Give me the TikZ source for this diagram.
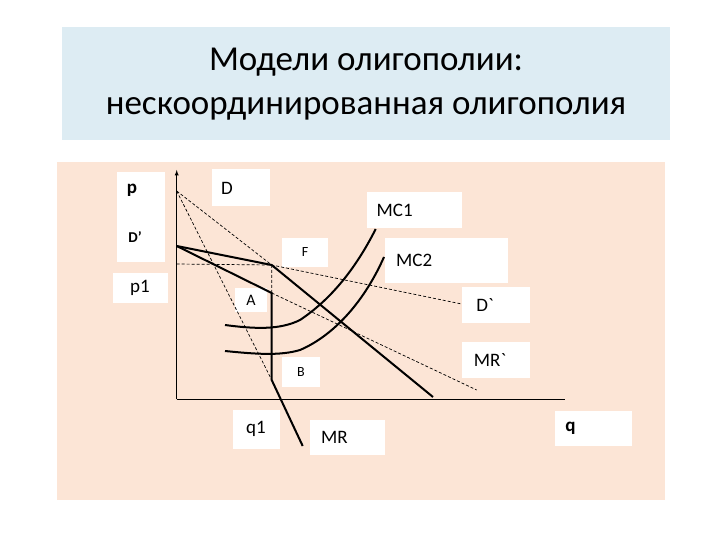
\documentclass[tikz,border=0pt]{standalone}
\usepackage{fontspec}
\setmainfont{Carlito}
\begin{document}
\begin{tikzpicture}[x=1pt,y=-1pt,
  lbl/.style={fill=white,inner sep=0pt,font=\fontsize{19}{21}\selectfont},
  curve/.style={line width=2pt},
  dline/.style={line width=0.7pt,dash pattern=on 3pt off 2pt}]
\useasboundingbox (0,0) rectangle (720,540);
\fill[white] (0,0) rectangle (720,540);
\fill[fill={rgb,255:red,221;green,236;blue,243}] (62,27) rectangle (670,140);
\node[font=\fontsize{35}{44}\selectfont,align=center] (title) at (366,84) {Модели олигополии:\\нескоординированная олигополия};
\fill[fill={rgb,255:red,252;green,229;blue,214}] (57,162) rectangle (665,500);
% label boxes
\node[lbl,minimum width=48pt,minimum height=90pt] (pbox) at (141,217) {};
\node[font=\bfseries\fontsize{19}{21}\selectfont] (p) at (132,190) {p};
\node[font=\bfseries\fontsize{15}{17}\selectfont] (dp) at (135,237) {D’};
\node[lbl,minimum width=55pt,minimum height=30pt] (p1) at (140,288) {p1};
\node[lbl,minimum width=58pt,minimum height=37pt] (D) at (241,188) {D\hspace*{28pt}};
\node[lbl,minimum width=95pt,minimum height=36pt,anchor=north west] (MC1) at (367,192) {MC1\hspace*{40pt}};
\node[lbl,minimum width=46pt,minimum height=29pt] (F) at (305,252) {\fontsize{14}{16}\selectfont F};
\node[lbl,minimum width=123pt,minimum height=45pt,anchor=north west] (MC2) at (385,238) {MC2\hspace*{65pt}};
\node[lbl,minimum width=68pt,minimum height=36pt] (Dt) at (496,305) {D\textasciigrave\hspace*{22pt}};
\node[lbl,minimum width=32pt,minimum height=24pt] (A) at (251,300) {\fontsize{16}{18}\selectfont A};
\node[lbl,minimum width=38pt,minimum height=30pt] (B) at (301,372) {\fontsize{14}{16}\selectfont B};
\node[lbl,minimum width=68pt,minimum height=36pt] (MRt) at (496,360) {MR\textasciigrave\hspace*{12pt}};
\node[lbl,minimum width=47pt,minimum height=39pt] (q1) at (256,429) {q1};
\node[lbl,minimum width=75pt,minimum height=35pt] (MR) at (347,437) {MR\hspace*{25pt}};
\node[lbl,minimum width=77pt,minimum height=35pt] (q) at (593,428) {\bfseries q\hspace*{45pt}};
% axes
\coordinate (O) at (176.7,399);
\coordinate (Ytop) at (176.7,170);
\coordinate (Xend) at (565,399);
\draw[line width=0.9pt,-latex] (O) -- (Ytop);
\draw[line width=0.9pt] (O) -- (Xend);
% points
\coordinate (K) at (176.7,246);
\coordinate (F0) at (271.7,265);
\coordinate (Dend) at (433,397);
\coordinate (A0) at (271.7,293);
\coordinate (B0) at (271.7,380);
\coordinate (MRend) at (302.7,446);
\coordinate (T) at (176.7,191);
\coordinate (Dtend) at (461.7,304);
\coordinate (MRtend) at (476.7,390);
\coordinate (P1) at (176.7,264);
% dashed
\draw[dline] (T) -- (F0) -- (Dtend);
\draw[dline] (T) -- (B0);
\draw[dline] (A0) -- (MRtend);
\draw[dline] (P1) -- (F0) -- (A0);
% solid
\draw[curve] (K) -- (F0) -- (Dend);
\draw[curve] (K) -- (A0) -- (B0) -- (MRend);
\draw[curve] (225,325) .. controls (255,329) and (280,330) .. (300,320) .. controls (330,300) and (355,270) .. (375.7,229);
\draw[curve] (225,351) .. controls (255,354) and (280,356) .. (300,350) .. controls (335,335) and (365,300) .. (384,257);
\end{tikzpicture}
\end{document}
